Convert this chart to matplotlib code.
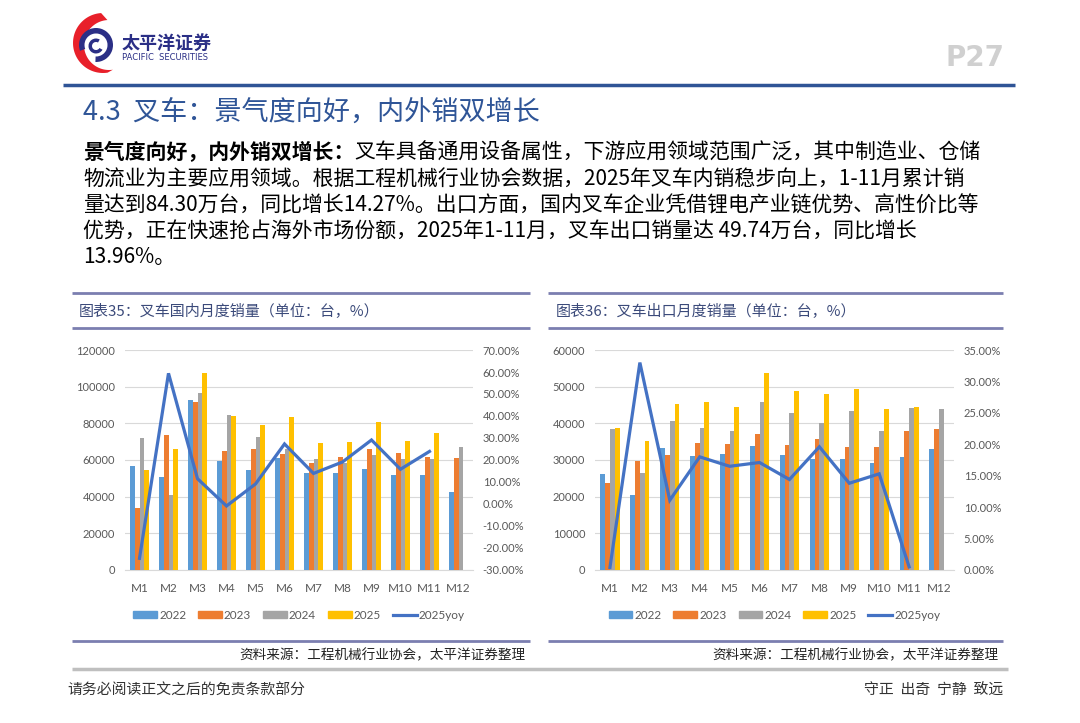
import numpy as np
import matplotlib
matplotlib.use('Agg')
from matplotlib import pyplot as plt
from matplotlib.patches import Polygon, Wedge, Patch
from matplotlib.lines import Line2D
from matplotlib.ticker import FuncFormatter

plt.rcParams['font.family'] = ['Noto Sans CJK SC', 'DejaVu Sans']

months = ['M1','M2','M3','M4','M5','M6','M7','M8','M9','M10','M11','M12']
series_names = ['2022','2023','2024','2025']
# domestic forklift sales (units) and 2025 yoy (%)
dom_2022 = [56700, 50500, 92700, 59300, 54500, 61000, 53100, 53100, 55300, 52000, 51600, 42500]
dom_2023 = [34000, 73500, 91600, 65100, 65800, 63300, 58500, 61500, 66200, 64000, 61800, 61100]
dom_2024 = [72000, 41000, 96400, 84700, 72400, 65800, 60700, 58500, 62500, 60400, 60400, 66900]
dom_2025 = [54500, 66000, 107600, 84000, 78900, 83600, 69500, 69800, 80700, 70200, 74900]
dom_yoy = [-24.7, 59.4, 11.5, -0.9, 9.1, 27.3, 13.9, 19.1, 29.1, 15.8, 23.9]
# export forklift sales (units) and 2025 yoy (%)
exp_2022 = [26200, 20400, 33300, 31100, 31600, 33800, 31500, 30200, 30400, 29100, 30700, 33100]
exp_2023 = [23600, 29600, 31300, 34700, 34400, 37100, 34000, 35800, 33600, 33600, 37800, 38400]
exp_2024 = [38400, 26400, 40700, 38700, 38000, 45800, 42700, 40000, 43300, 38000, 44200, 44000]
exp_2025 = [38700, 35300, 45300, 45800, 44400, 53600, 48900, 48000, 49300, 43800, 44500]
exp_yoy = [0.4, 33.0, 11.1, 18.0, 16.5, 17.1, 14.4, 19.6, 13.8, 15.3, 0.5]

bar_colors = ['#5B9BD5', '#ED7D31', '#A5A5A5', '#FFC000']
line_color = '#4472C4'
tick_color = '#595959'
W, H = 1080, 723

fig = plt.figure(figsize=(W/100, H/100), dpi=100)
bg = fig.add_axes([0, 0, 1, 1])
bg.set_xlim(0, W)
bg.set_ylim(H, 0)
bg.axis('off')

# logo
t = np.linspace(np.pi*0.52, np.pi*1.55, 60)
outer = np.c_[103 + 30*np.cos(t), 43 - 30*np.sin(t)]
inner = np.c_[109 + 25*np.cos(t[::-1]), 45 - 25*np.sin(t[::-1])]
bg.add_patch(Polygon(np.vstack([outer, inner]), closed=True, color='#E8202A', lw=0))
bg.add_patch(Wedge((96, 45), 17, -200, 92, width=5.5, color='#2B2F86', lw=0))
bg.add_patch(Wedge((96, 46), 7.5, 30, 300, width=3.5, color='#2B2F86', lw=0))
bg.text(122, 43, '太平洋证券', fontsize=13, fontweight='bold', color='#2B2F86', va='center', ha='left')
bg.text(122, 57, 'PACIFIC  SECURITIES', fontsize=6, color='#2B2F86', va='center', ha='left', family='DejaVu Sans')
bg.text(1005, 58, 'P27', fontsize=20, fontweight='bold', color='#D0D0D0', va='center', ha='right', family='DejaVu Sans')
bg.plot([63, 1015], [85, 85], color='#2F5496', lw=2.5, solid_capstyle='butt')

bg.text(83, 112, '4.3  叉车：景气度向好，内外销双增长', fontsize=19.5, color='#2F5597', va='center', ha='left')

# body paragraph
renderer = fig.canvas.get_renderer()
bold_part = bg.text(83, 153, '景气度向好，内外销双增长：', fontsize=15, fontweight='bold', color='black', va='center', ha='left')
x_rest = bg.transData.inverted().transform((bold_part.get_window_extent(renderer).x1, 0))[0]
bg.text(x_rest, 153, '叉车具备通用设备属性，下游应用领域范围广泛，其中制造业、仓储', fontsize=15, color='black', va='center', ha='left')
body_lines = [
    '物流业为主要应用领域。根据工程机械行业协会数据，2025年叉车内销稳步向上，1-11月累计销',
    '量达到84.30万台，同比增长14.27%。出口方面，国内叉车企业凭借锂电产业链优势、高性价比等',
    '优势，正在快速抢占海外市场份额，2025年1-11月，叉车出口销量达 49.74万台，同比增长',
    '13.96%。',
]
for i, line in enumerate(body_lines):
    bg.text(83, 180 + 25.8*i, line, fontsize=15, color='black', va='center', ha='left')

header_color = '#7B7EB0'
panels = [
    dict(x0=72, x1=530, title='图表35：叉车国内月度销量（单位：台，%）', tx=79),
    dict(x0=548, x1=1003, title='图表36：叉车出口月度销量（单位：台，%）', tx=556),
]
for p in panels:
    bg.plot([p['x0'], p['x1']], [293, 293], color=header_color, lw=2, solid_capstyle='butt')
    bg.plot([p['x0'], p['x1']], [328, 328], color=header_color, lw=2, solid_capstyle='butt')
    bg.plot([p['x0'], p['x1']], [641, 641], color=header_color, lw=2, solid_capstyle='butt')
    bg.text(p['tx'], 311, p['title'], fontsize=10.8, color='#3B4A7A', va='center', ha='left')
    bg.text(p['x1'] - 5, 655, '资料来源：工程机械行业协会，太平洋证券整理', fontsize=9.8, color='#222222',
            va='center', ha='right', style='italic')
bg.plot([72, 1008], [669, 669], color='#BFBFBF', lw=2.5, solid_capstyle='butt')
bg.text(67, 691, '请务必阅读正文之后的免责条款部分', fontsize=10.7, color='#333333', va='center', ha='left')
bg.text(1003, 691, '守正  出奇  宁静  致远', fontsize=10.7, color='#333333', va='center', ha='right')


def draw_chart(rect, data, yoy, ymax, ystep, pmin, pmax, pstep):
    ax = fig.add_axes([rect[0]/W, 1 - (rect[1] + rect[3])/H, rect[2]/W, rect[3]/H])
    x = np.arange(len(months))
    bw = 0.16
    for k, (vals, c) in enumerate(zip(data, bar_colors)):
        xs = x[:len(vals)] + (k - 1.5)*bw
        ax.bar(xs, vals, width=bw, color=c, zorder=3)
    ax.set_xlim(-0.5, len(months) - 0.5)
    ax.set_ylim(0, ymax)
    ax.set_yticks(np.arange(0, ymax + 1, ystep))
    ax.set_xticks(x)
    ax.set_xticklabels(months)
    ax.grid(axis='y', color='#D9D9D9', lw=0.8, zorder=0)
    ax.set_axisbelow(True)
    for s in ['top', 'left', 'right']:
        ax.spines[s].set_visible(False)
    ax.spines['bottom'].set_color('#D9D9D9')
    ax.tick_params(length=0, colors=tick_color, labelsize=8, labelfontfamily='Lato')
    ax.tick_params(axis='y', pad=7)
    ax.tick_params(axis='x', pad=9, labelsize=8.5)
    ax2 = ax.twinx()
    ax2.plot(x[:len(yoy)], yoy, color=line_color, lw=2.3, solid_joinstyle='miter', zorder=4)
    ax2.set_ylim(pmin, pmax)
    ax2.set_yticks(np.arange(pmin, pmax + 0.01, pstep))
    ax2.yaxis.set_major_formatter(FuncFormatter(lambda v, pos: '%.2f%%' % v))
    for s in ax2.spines.values():
        s.set_visible(False)
    ax2.tick_params(length=0, colors=tick_color, labelsize=8, labelfontfamily='Lato', pad=7)
    handles = [Patch(color=c) for c in bar_colors] + [Line2D([], [], color=line_color, lw=2.3)]
    leg = ax.legend(handles, series_names + ['2025yoy'], loc='center', bbox_to_anchor=(0.5, -0.205),
                    ncol=5, frameon=False, handlelength=2.0, handleheight=0.5,
                    handletextpad=0.2, columnspacing=1.0, prop={'family': 'Lato', 'size': 8.5})
    for txt in leg.get_texts():
        txt.set_color(tick_color)
    return ax


draw_chart((125, 350, 348, 220), [dom_2022, dom_2023, dom_2024, dom_2025], dom_yoy,
           120000, 20000, -30, 70, 10)
draw_chart((595, 350, 359, 220), [exp_2022, exp_2023, exp_2024, exp_2025], exp_yoy,
           60000, 10000, 0, 35, 5)

fig.savefig('out.png', dpi=100)
